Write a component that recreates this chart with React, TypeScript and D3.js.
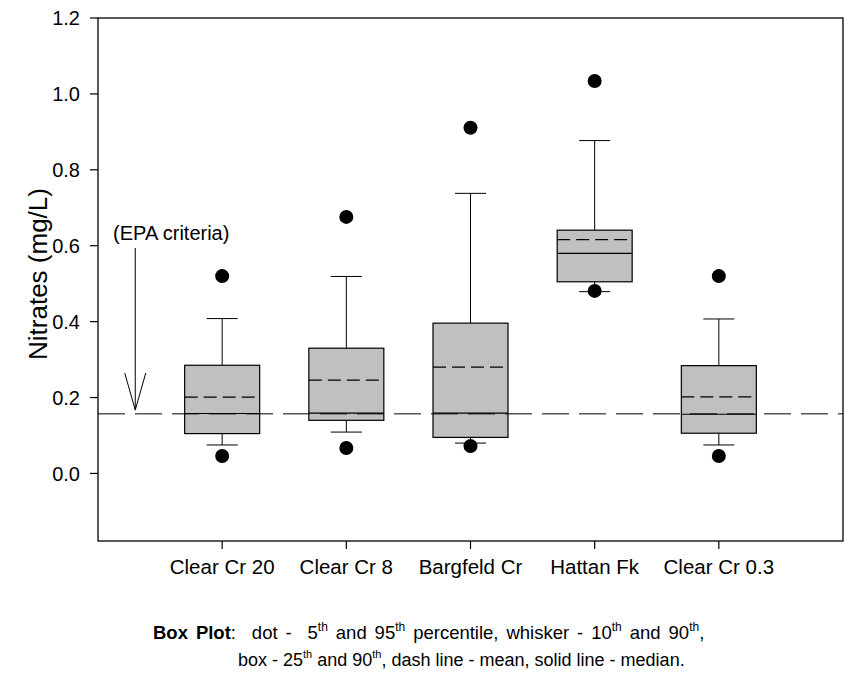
import React from "react";
import * as d3 from "d3";

const categories = ["Clear Cr 20", "Clear Cr 8", "Bargfeld Cr", "Hattan Fk", "Clear Cr 0.3"];
const p5 = [0.046, 0.067, 0.072, 0.481, 0.046];
const p10 = [0.075, 0.109, 0.08, 0.479, 0.075];
const q25 = [0.105, 0.14, 0.095, 0.505, 0.106];
const medians = [0.158, 0.159, 0.159, 0.58, 0.156];
const means = [0.201, 0.246, 0.28, 0.616, 0.202];
const q75 = [0.285, 0.33, 0.396, 0.641, 0.284];
const p90 = [0.408, 0.519, 0.738, 0.877, 0.407];
const p95 = [0.52, 0.676, 0.911, 1.034, 0.52];
const yTicks = [0, 0.2, 0.4, 0.6, 0.8, 1.0, 1.2];
const epaValue = 0.157;
const epaLabel = "(EPA criteria)";
const arrowX = 0.3;
const arrowTop = 0.594;
const arrowTip = 0.167;

// caption segments: [kind, text]  kind: b = bold, n = normal, s = superscript
const captionLine1: [string, string][] = [
  ["b", "Box Plot"], ["n", ":  dot -  5"], ["s", "th"], ["n", " and 95"], ["s", "th"],
  ["n", " percentile, whisker - 10"], ["s", "th"], ["n", " and 90"], ["s", "th"], ["n", ","],
];
const captionLine2: [string, string][] = [
  ["n", "box - 25"], ["s", "th"], ["n", " and 90"], ["s", "th"], ["n", ", dash line - mean, solid line - median."],
];

const W = 844;
const H = 675;
const left = 98, right = 843, top = 18, bottom = 541;
const font = "Arial, 'Liberation Sans', sans-serif";

function Caption({ segs, x, y, size, supSize, wordSpacing }: { segs: [string, string][]; x: number; y: number; size: number; supSize: number; wordSpacing: number }) {
  let prevSup = false;
  return (
    <text x={x} y={y} fontSize={size} style={{ whiteSpace: "pre", wordSpacing: `${wordSpacing}px` }}>
      {segs.map(([k, t], i) => {
        let dy = 0;
        if (k === "s" && !prevSup) dy = -8;
        if (k !== "s" && prevSup) dy = 8;
        prevSup = k === "s";
        return (
          <tspan key={i} dy={dy || undefined} fontSize={k === "s" ? supSize : undefined} fontWeight={k === "b" ? "bold" : undefined}>
            {t}
          </tspan>
        );
      })}
    </text>
  );
}

export default function App() {
  const x = d3.scaleLinear().domain([0, 6]).range([left, right]);
  const y = d3.scaleLinear().domain([-0.178, 1.2]).range([bottom, top]);
  const unit = x(1) - x(0);
  const boxW = 0.604 * unit;
  const capW = 0.25 * unit;
  const ax = x(arrowX);
  const tipY = y(arrowTip);

  return (
    <svg width={W} height={H} style={{ position: "absolute", left: 0, top: 0, background: "#fff" }} fontFamily={font}>
      <rect x={0} y={0} width={W} height={H} fill="#fff" />
      {categories.map((c, i) => {
        const cx = x(i + 1);
        return (
          <g key={c}>
            <line x1={cx} x2={cx} y1={y(p90[i])} y2={y(q75[i])} stroke="#000" strokeWidth={1} />
            <line x1={cx} x2={cx} y1={y(q25[i])} y2={y(p10[i])} stroke="#000" strokeWidth={1} />
            <line x1={cx - capW / 2} x2={cx + capW / 2} y1={y(p90[i])} y2={y(p90[i])} stroke="#000" strokeWidth={1} />
            <line x1={cx - capW / 2} x2={cx + capW / 2} y1={y(p10[i])} y2={y(p10[i])} stroke="#000" strokeWidth={1} />
            <rect x={cx - boxW / 2} y={y(q75[i])} width={boxW} height={y(q25[i]) - y(q75[i])} fill="#c0c0c0" stroke="#000" strokeWidth={1.2} />
            <line x1={cx - boxW / 2} x2={cx + boxW / 2} y1={y(medians[i])} y2={y(medians[i])} stroke="#000" strokeWidth={1.2} />
            <line x1={cx - boxW / 2} x2={cx + boxW / 2 - 4} y1={y(means[i])} y2={y(means[i])} stroke="#000" strokeWidth={1.2} strokeDasharray="13,6" />
            <circle cx={cx} cy={y(p95[i])} r={7} fill="#000" />
            <circle cx={cx} cy={y(p5[i])} r={7} fill="#000" />
          </g>
        );
      })}
      <line x1={left} x2={right} y1={y(epaValue)} y2={y(epaValue)} stroke="#000" strokeWidth={1} strokeDasharray="27,10" />
      <line x1={ax} x2={ax} y1={y(arrowTop)} y2={tipY} stroke="#000" strokeWidth={1} />
      <path d={`M${ax - 10.5},${tipY - 37} L${ax},${tipY} L${ax + 10.5},${tipY - 37}`} fill="none" stroke="#000" strokeWidth={1} />
      <text x={ax + 36} y={y(arrowTop) - 8} textAnchor="middle" fontSize={20}>{epaLabel}</text>
      <rect x={left} y={top} width={right - left} height={bottom - top} fill="none" stroke="#000" strokeWidth={1.3} />
      {yTicks.map((t) => (
        <g key={t}>
          <line x1={left - 8} x2={left} y1={y(t)} y2={y(t)} stroke="#000" strokeWidth={1.2} />
          <text x={left - 18} y={y(t)} dy="0.36em" textAnchor="end" fontSize={20}>{d3.format(".1f")(t)}</text>
        </g>
      ))}
      {categories.map((c, i) => (
        <g key={c}>
          <line x1={x(i + 1)} x2={x(i + 1)} y1={bottom} y2={bottom + 8} stroke="#000" strokeWidth={1.2} />
          <text x={x(i + 1)} y={574} textAnchor="middle" fontSize={20.5}>{c}</text>
        </g>
      ))}
      <text transform={`translate(47,274) rotate(-90)`} textAnchor="middle" fontSize={26}>Nitrates (mg/L)</text>
      <Caption segs={captionLine1} x={153} y={639} size={18.5} supSize={12} wordSpacing={2.8} />
      <Caption segs={captionLine2} x={238} y={666} size={18} supSize={11} wordSpacing={0} />
    </svg>
  );
}
